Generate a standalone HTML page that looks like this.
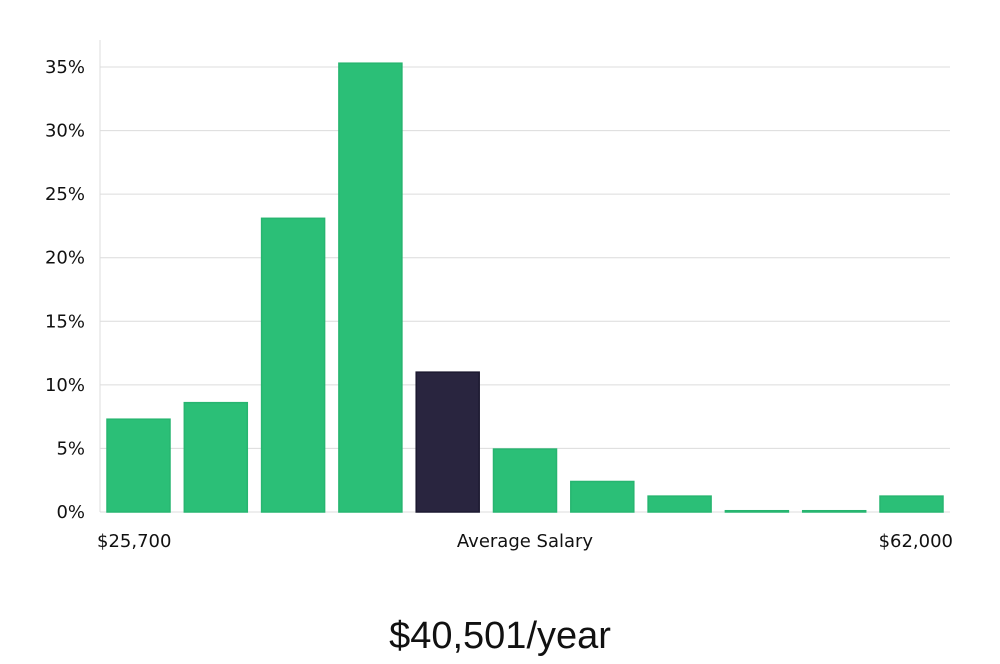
<!DOCTYPE html>
<html><head><meta charset="utf-8"><style>
body{margin:0;background:#fff;width:1000px;height:660px;overflow:hidden;font-family:"DejaVu Sans","Liberation Sans",sans-serif}
</style></head><body>
<svg id="chart" width="1000" height="660" xmlns="http://www.w3.org/2000/svg">
<g id="grid"></g><g id="bars"></g><g id="labels"></g>
<line x1="100" y1="40" x2="100" y2="512" stroke="#ddd" stroke-width="1"/>
<text x="97" y="547" font-size="18" fill="#111">$25,700</text>
<text x="525" y="547" font-size="18" fill="#111" text-anchor="middle">Average Salary</text>
<text x="953" y="547" font-size="18" fill="#111" text-anchor="end">$62,000</text>
<text x="500" y="648" font-size="38" fill="#111" font-family="Liberation Sans, sans-serif" font-weight="300" text-anchor="middle">$40,501/year</text>
</svg>
<script>
const values=[7.3,8.6,23.1,35.3,11.0,4.95,2.4,1.25,0.1,0.1,1.25];
const highlightIndex=4;
const ticks=[0,5,10,15,20,25,30,35];
const tickLabels=["0%","5%","10%","15%","20%","25%","30%","35%"];
const NS="http://www.w3.org/2000/svg";
const y0=512,pxPerPct=(512-67)/35;
const yS=v=>y0-v*pxPerPct;
const x0=107,step=77.3,bw=63;
const xS=i=>x0+i*step;
const grid=document.getElementById('grid'),bars=document.getElementById('bars'),labels=document.getElementById('labels');
ticks.forEach((t,i)=>{
 const l=document.createElementNS(NS,'line');
 
 
 l.setAttribute('x1',100);l.setAttribute('x2',950);l.setAttribute('y1',yS(t));l.setAttribute('y2',yS(t));
 l.setAttribute('stroke','#dcdcdc');l.setAttribute('stroke-width','1');
 grid.appendChild(l);
 const tx=document.createElementNS(NS,'text');
 
 
 tx.setAttribute('x',85);tx.setAttribute('y',yS(t)+6);tx.setAttribute('text-anchor','end');
 tx.setAttribute('font-size','18');tx.setAttribute('fill','#111');
 tx.textContent=tickLabels[i];labels.appendChild(tx);
});
values.forEach((v,i)=>{
 const r=document.createElementNS(NS,'rect');
 
 
 const h=Math.max(v*pxPerPct,1);
 r.setAttribute('x',xS(i));r.setAttribute('y',y0-h);r.setAttribute('width',bw);r.setAttribute('height',h);
 const hi=i===highlightIndex;
 r.setAttribute('fill',hi?'#29253f':'#2bbf77');
 r.setAttribute('stroke',hi?'#1c1930':'#27b570');r.setAttribute('stroke-width','1.5');
 bars.appendChild(r);
});
</script>
</body></html>
